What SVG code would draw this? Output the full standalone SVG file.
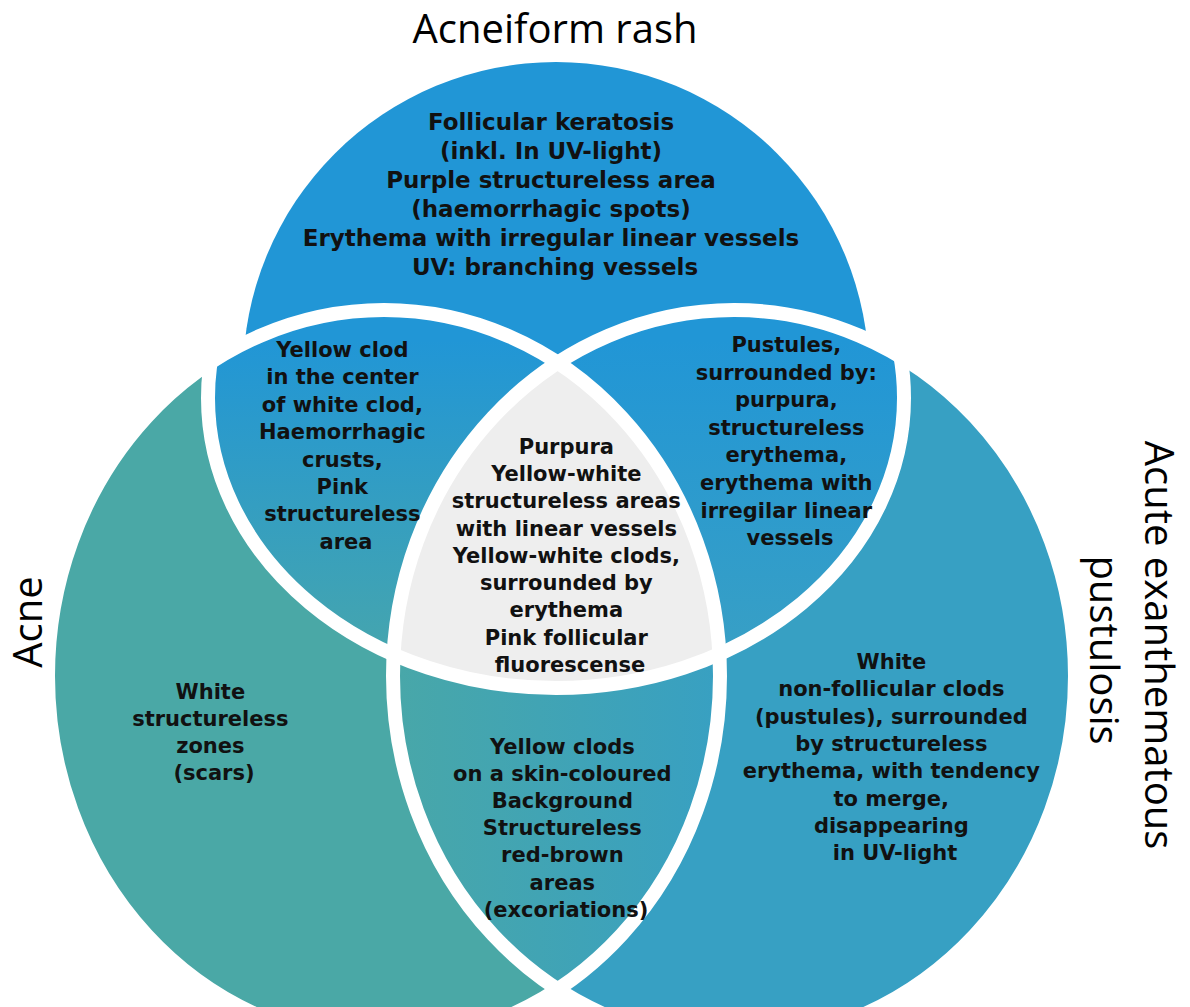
<svg xmlns="http://www.w3.org/2000/svg" width="1190" height="1007" viewBox="0 0 1190 1007">
<defs>
<style>
.t{font-family:"DejaVu Sans","Liberation Sans",sans-serif;font-weight:bold;font-size:21px;fill:#111;text-anchor:middle}
.big{font-size:23px}
.lbl{font-family:"Open Sans","Liberation Sans",sans-serif;font-size:40px;fill:#000;text-anchor:middle}
.gap{fill:none;stroke:#fff;stroke-width:14}
</style>
<clipPath id="cL"><ellipse cx="384" cy="676" rx="336" ry="366"/></clipPath>
<clipPath id="cR"><ellipse cx="734" cy="676" rx="341" ry="366"/></clipPath>
<clipPath id="cLR"><ellipse cx="384" cy="676" rx="336" ry="366"/><ellipse cx="734" cy="676" rx="341" ry="366"/></clipPath>
<linearGradient id="gTL" x1="0" y1="340" x2="0" y2="670" gradientUnits="userSpaceOnUse"><stop offset="0" stop-color="#2196D6"/><stop offset="1" stop-color="#47A6AC"/></linearGradient>
<linearGradient id="gTR" x1="0" y1="340" x2="0" y2="670" gradientUnits="userSpaceOnUse"><stop offset="0" stop-color="#2196D6"/><stop offset="1" stop-color="#39A0C4"/></linearGradient>
<linearGradient id="gB" x1="400" y1="0" x2="720" y2="0" gradientUnits="userSpaceOnUse"><stop offset="0" stop-color="#48A7A9"/><stop offset="1" stop-color="#38A0C2"/></linearGradient>
</defs>
<rect width="1190" height="1007" fill="#fff"/>

<g id="acneiform-rash">
<circle cx="556" cy="375" r="313" fill="#2196D6"/>
</g>
<g id="acne">
<ellipse cx="384" cy="676" rx="336" ry="366" fill="#4AA8A6"/>
</g>
<g id="agep">
<ellipse cx="734" cy="676" rx="341" ry="366" fill="#37A0C3"/>
</g>
<g id="acne-agep" clip-path="url(#cL)">
<ellipse cx="734" cy="676" rx="341" ry="366" fill="url(#gB)"/>
</g>
<g id="rash-acne" clip-path="url(#cL)">
<ellipse cx="556" cy="398" rx="348" ry="290" fill="url(#gTL)"/>
</g>
<g id="rash-agep" clip-path="url(#cR)">
<ellipse cx="556" cy="398" rx="348" ry="290" fill="url(#gTR)"/>
</g>
<g id="all-three" clip-path="url(#cL)">
<g clip-path="url(#cR)">
<ellipse cx="556" cy="398" rx="348" ry="290" fill="#EEEEEE"/>
</g>
</g>

<g id="gaps">
<ellipse class="gap" cx="384" cy="676" rx="336" ry="366"/>
<ellipse class="gap" cx="734" cy="676" rx="341" ry="366"/>
<g clip-path="url(#cLR)"><ellipse class="gap" cx="556" cy="398" rx="348" ry="290"/></g>
</g>

<g id="labels">
<text class="lbl" x="555" y="43">Acneiform rash</text>
<text class="lbl" transform="translate(42,622) rotate(-90)" x="0" y="0">Acne</text>
<text class="lbl" transform="translate(1145,645) rotate(90)" x="0" y="0">Acute exanthematous</text>
<text class="lbl" transform="translate(1090,650) rotate(90)" x="0" y="0">pustulosis</text>
</g>

<g id="text-rash">
<text class="t big">
<tspan x="555" y="130">Follicular keratosis</tspan>
<tspan x="555" y="159">(inkl. In UV-light)</tspan>
<tspan x="555" y="188">Purple structureless area</tspan>
<tspan x="555" y="217">(haemorrhagic spots)</tspan>
<tspan x="555" y="246">Erythema with irregular linear vessels</tspan>
<tspan x="555" y="275">UV: branching vessels</tspan>
</text>
</g>
<g id="text-rash-acne">
<text class="t">
<tspan x="346" y="357">Yellow clod</tspan>
<tspan x="346" y="384">in the center</tspan>
<tspan x="346" y="412">of white clod,</tspan>
<tspan x="346" y="439">Haemorrhagic</tspan>
<tspan x="346" y="467">crusts,</tspan>
<tspan x="346" y="494">Pink</tspan>
<tspan x="346" y="521">structureless</tspan>
<tspan x="346" y="549">area</tspan>
</text>
</g>
<g id="text-all">
<text class="t">
<tspan x="570" y="454">Purpura</tspan>
<tspan x="570" y="481">Yellow-white</tspan>
<tspan x="570" y="508">structureless areas</tspan>
<tspan x="570" y="536">with linear vessels</tspan>
<tspan x="570" y="563">Yellow-white clods,</tspan>
<tspan x="570" y="590">surrounded by</tspan>
<tspan x="570" y="617">erythema</tspan>
<tspan x="570" y="645">Pink follicular</tspan>
<tspan x="570" y="672">fluorescense</tspan>
</text>
</g>
<g id="text-rash-agep">
<text class="t">
<tspan x="790" y="352">Pustules,</tspan>
<tspan x="790" y="380">surrounded by:</tspan>
<tspan x="790" y="407">purpura,</tspan>
<tspan x="790" y="435">structureless</tspan>
<tspan x="790" y="462">erythema,</tspan>
<tspan x="790" y="490">erythema with</tspan>
<tspan x="790" y="518">irregilar linear</tspan>
<tspan x="790" y="545">vessels</tspan>
</text>
</g>
<g id="text-acne">
<text class="t">
<tspan x="214" y="699">White</tspan>
<tspan x="214" y="726">structureless</tspan>
<tspan x="214" y="753">zones</tspan>
<tspan x="214" y="780">(scars)</tspan>
</text>
</g>
<g id="text-acne-agep">
<text class="t">
<tspan x="566" y="754">Yellow clods</tspan>
<tspan x="566" y="781">on a skin-coloured</tspan>
<tspan x="566" y="808">Background</tspan>
<tspan x="566" y="835">Structureless</tspan>
<tspan x="566" y="862">red-brown</tspan>
<tspan x="566" y="890">areas</tspan>
<tspan x="566" y="917">(excoriations)</tspan>
</text>
</g>
<g id="text-agep">
<text class="t">
<tspan x="895" y="669">White</tspan>
<tspan x="895" y="696">non-follicular clods</tspan>
<tspan x="895" y="724">(pustules), surrounded</tspan>
<tspan x="895" y="751">by structureless</tspan>
<tspan x="895" y="778">erythema, with tendency</tspan>
<tspan x="895" y="806">to merge,</tspan>
<tspan x="895" y="833">disappearing</tspan>
<tspan x="895" y="860">in UV-light</tspan>
</text>
</g>
</svg>
